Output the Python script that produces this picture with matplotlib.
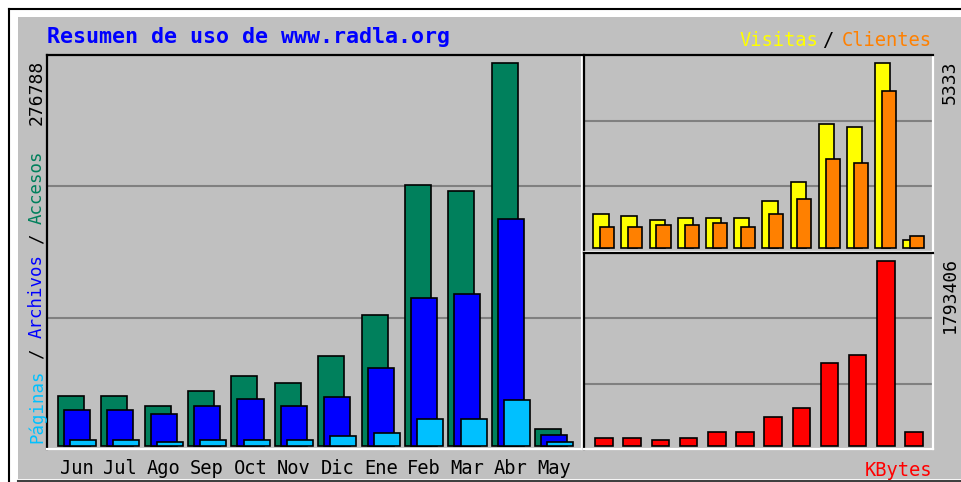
import matplotlib
matplotlib.use('Agg')
import matplotlib.pyplot as plt
from matplotlib.patches import Rectangle
from matplotlib.lines import Line2D
import numpy as np

# monthly usage summary for www.radla.org
months = ['Jun', 'Jul', 'Ago', 'Sep', 'Oct', 'Nov', 'Dic', 'Ene', 'Feb', 'Mar', 'Abr', 'May']
accesos = [36130, 36130, 28900, 39750, 50590, 45530, 65040, 94670, 188620, 184280, 276788, 12290]
archivos = [26020, 26020, 23130, 28910, 34180, 28910, 35630, 56370, 106960, 109850, 164050, 8170]
paginas = [4340, 4340, 3110, 4340, 4340, 4340, 7010, 9610, 19300, 19300, 33030, 2890]
visitas = [980, 922, 826, 884, 884, 884, 1374, 1912, 3594, 3488, 5333, 231]
clientes = [605, 605, 663, 663, 721, 605, 999, 1422, 2566, 2460, 4526, 346]
kbytes = [74320, 74320, 58160, 74320, 132490, 132490, 281130, 368380, 804610, 878930, 1793406, 132490]

W, H = 961, 482
GRAY = '#c0c0c0'
MONO = 'DejaVu Sans Mono'

fig = plt.figure(figsize=(W / 100, H / 100), dpi=100)
fig.patch.set_facecolor('white')


def box(x0, y0, x1, y1):
    return [x0 / W, 1 - y1 / H, (x1 - x0) / W, (y1 - y0) / H]


# outer frame
fig.add_artist(Rectangle((18 / W, 1 - 479 / H), (W - 18) / W, (479 - 17) / H,
                         transform=fig.transFigure, facecolor=GRAY, edgecolor='none', zorder=0))
fig.add_artist(Line2D([9 / W, 9 / W], [1 - 9 / H, 0], color='black', lw=1.5, transform=fig.transFigure))
fig.add_artist(Line2D([9 / W, 1], [1 - 9 / H, 1 - 9 / H], color='black', lw=1.5, transform=fig.transFigure))
fig.add_artist(Line2D([18 / W, 1], [1 - 480.5 / H, 1 - 480.5 / H], color='#404040', lw=1.5, transform=fig.transFigure))


def panel(rect):
    ax = fig.add_axes(rect)
    ax.set_facecolor(GRAY)
    for s in ['top', 'left']:
        ax.spines[s].set_color('black')
        ax.spines[s].set_linewidth(1.6)
    for s in ['bottom', 'right']:
        ax.spines[s].set_color('white')
        ax.spines[s].set_linewidth(1.6)
    ax.tick_params(length=0)
    ax.set_yticks([])
    return ax


def grid(ax):
    lo, hi = ax.get_ylim()
    for k in (1, 2):
        ax.axhline(lo + (hi - lo) * k / 3, color='#808080', lw=1.5, zorder=1)


x = np.arange(len(months))
edge = dict(edgecolor='black', linewidth=1.2, zorder=2)

# main panel: accesos / archivos / paginas
ax = panel(box(47, 55, 582, 449))
m = max(accesos)
ax.set_xlim(-0.69, 11.64)
ax.set_ylim(-m * 3 / 383, m * 391 / 383)
grid(ax)
ax.bar(x - 0.14, accesos, 0.6, color='#00805c', **edge)
ax.bar(x, archivos, 0.6, color='#0000ff', **edge)
ax.bar(x + 0.14, paginas, 0.6, color='#00c0ff', **edge)
ax.set_xticks(x)
ax.set_xticklabels(months, fontsize=13.5, family=MONO)
ax.tick_params(axis='x', pad=7)

# visitas / clientes
ax2 = panel(box(584, 55, 933, 252))
m = max(visitas)
ax2.set_xlim(-0.71, 11.67)
ax2.set_ylim(-m * 3.7 / 185, m * 193.3 / 185)
grid(ax2)
ax2.bar(x - 0.11, visitas, 0.54, color='#ffff00', **edge)
ax2.bar(x + 0.11, clientes, 0.5, color='#ff8000', **edge)
ax2.set_xticks([])

# kbytes
ax3 = panel(box(584, 253, 933, 449))
m = max(kbytes)
ax3.set_xlim(-0.71, 11.67)
ax3.set_ylim(-m * 3 / 185, m * 193 / 185)
grid(ax3)
ax3.bar(x, kbytes, 0.62, color='#ff0000', **edge)
ax3.set_xticks([])


def t(px, py, s, **kw):
    fig.text(px / W, 1 - py / H, s, family=MONO, **kw)


t(47, 37, 'Resumen de uso de www.radla.org', color='#0000ff', fontsize=15.6,
  weight='bold', ha='left', va='center')

t(932, 41, 'Clientes', color='#ff8000', fontsize=13.5, ha='right', va='center')
t(828, 41, '/', color='black', fontsize=13.5, ha='center', va='center')
t(818, 41, 'Visitas', color='#ffff00', fontsize=13.5, ha='right', va='center')
t(932, 470, 'KBytes', color='#ff0000', fontsize=13.5, ha='right', va='center')

t(37, 60, str(max(accesos)), color='black', fontsize=13, rotation=90, ha='center', va='top')
t(950, 60, str(max(visitas)), color='black', fontsize=13, rotation=90, ha='center', va='top')
t(950, 257, str(max(kbytes)), color='black', fontsize=13, rotation=90, ha='center', va='top')

# left axis legend, laid out char by char (monospace)
parts = [('Páginas', '#00c0ff'), (' / ', 'black'), ('Archivos', '#0000ff'),
         (' / ', 'black'), ('Accesos', '#00805c')]
cw = 10.45
y0 = 443
for s, c in parts:
    if s == ' / ':
        t(37, y0 - cw * 1.5, '/', color=c, fontsize=12.5, rotation=90, ha='center', va='center')
    else:
        t(37, y0, s, color=c, fontsize=12.5, rotation=90, ha='center', va='bottom')
    y0 -= cw * len(s)

fig.savefig('out.png', dpi=100, facecolor=fig.get_facecolor())
